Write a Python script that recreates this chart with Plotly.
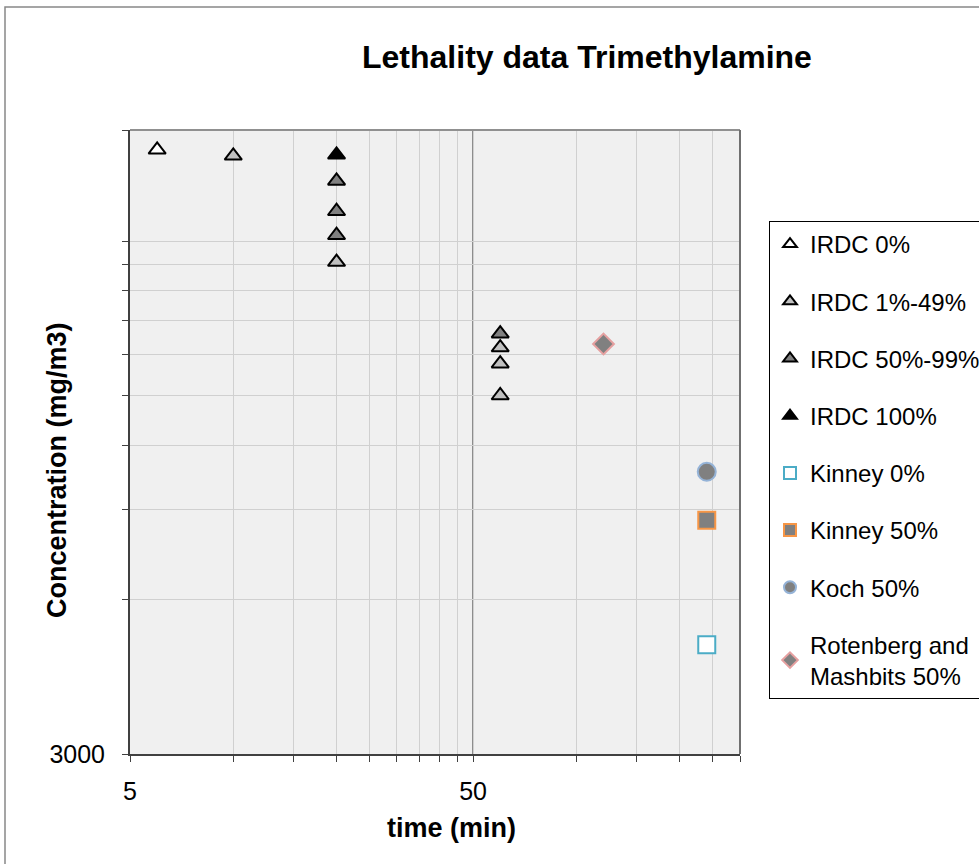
import plotly.graph_objects as go

# ---- data ----
irdc0_x = [6]
irdc0_y = [45200]
irdc1_x = [10, 20, 60, 60, 60]
irdc1_y = [44000, 27300, 18600, 17300, 15000]
irdc50_x = [20, 20, 20, 60]
irdc50_y = [39300, 34300, 30800, 19800]
irdc100_x = [20]
irdc100_y = [44200]
kinney0_x = [240]
kinney0_y = [4900]
kinney50_x = [240]
kinney50_y = [8570]
koch50_x = [240]
koch50_y = [10650]
roten_x = [120]
roten_y = [18900]

x_ticks = [5, 10, 15, 20, 25, 30, 35, 40, 45, 50, 100, 150, 200, 250, 300]
x_labels = {5: "5", 50: "50"}
y_ticks = [3000, 6000, 9000, 12000, 15000, 18000, 21000, 24000, 27000, 30000, 49400]
y_labels = {3000: "3000"}

FONT = "Arial, Liberation Sans, sans-serif"

fig = go.Figure()

def add(name, xs, ys, symbol, fill, line, size, lw, group):
    fig.add_trace(go.Scatter(
        x=xs, y=ys, mode="markers", name=name, legendgroup=group,
        marker=dict(symbol=symbol, color=fill, size=size,
                    line=dict(color=line, width=lw)),
    ))

add("IRDC 0%", irdc0_x, irdc0_y, "triangle-up", "#ffffff", "#000000", 15, 2, "a")
add("IRDC 1%-49%", irdc1_x, irdc1_y, "triangle-up", "#c0c0c0", "#000000", 15, 2, "b")
add("IRDC 50%-99%", irdc50_x, irdc50_y, "triangle-up", "#808080", "#000000", 15, 2, "c")
add("IRDC 100%", irdc100_x, irdc100_y, "triangle-up", "#000000", "#000000", 15, 2, "d")
add("Kinney 0%", kinney0_x, kinney0_y, "square", "#ffffff", "#4bacc6", 17, 2, "e")
add("Kinney 50%", kinney50_x, kinney50_y, "square", "#808080", "#f79646", 17, 2, "f")
add("Koch 50%", koch50_x, koch50_y, "circle", "#808080", "#95b3d7", 18, 2, "g")
add("Rotenberg and<br>Mashbits 50%", roten_x, roten_y, "diamond", "#808080", "#e6a0a0", 16, 2, "h")

L, R, T, B = 130, 239, 130, 110
W, H = 979, 864
pw, ph = W - L - R, H - T - B

def px_x(p):
    return (p - L) / pw

def px_y(p):
    return (H - B - p) / ph

fig.update_layout(
    width=W, height=H,
    margin=dict(l=L, r=R, t=T, b=B, autoexpand=False),
    paper_bgcolor="#ffffff",
    plot_bgcolor="#f0f0f0",
    font=dict(family=FONT, size=24, color="#000000"),
    showlegend=True,
    legend=dict(
        xref="container", yref="container",
        x=769 / W, y=1 - 221 / H, xanchor="left", yanchor="top",
        bgcolor="#ffffff", bordercolor="#000000", borderwidth=1,
        font=dict(family=FONT, size=24, color="#000000"),
        tracegroupgap=23, itemsizing="constant", maxheight=640,
    ),
    xaxis=dict(
        type="log", range=[0.69897, 2.4771],
        tickvals=x_ticks, ticktext=[x_labels.get(v, "") for v in x_ticks],
        showgrid=True, gridcolor="#d0d0d0", gridwidth=1,
        ticks="outside", ticklen=6, tickcolor="#404040", tickwidth=1,
        showline=True, linecolor="#404040", linewidth=2, mirror=False,
        zeroline=False, tickfont=dict(size=25), ticklabelstandoff=8,
        automargin=False,
    ),
    yaxis=dict(
        type="log", range=[3.47712, 4.69373],
        tickvals=y_ticks, ticktext=[y_labels.get(v, "") for v in y_ticks],
        showgrid=True, gridcolor="#d0d0d0", gridwidth=1,
        ticks="outside", ticklen=6, tickcolor="#404040", tickwidth=1,
        showline=True, linecolor="#404040", linewidth=2, mirror=False,
        zeroline=False, tickfont=dict(size=25), ticklabelstandoff=12,
        automargin=False,
    ),
    shapes=[
        # darker major gridline at 50
        dict(type="line", xref="x", yref="paper", x0=50, x1=50, y0=0, y1=1,
             line=dict(color="#606060", width=1.5), layer="below"),
        # plot area top / right border
        dict(type="line", xref="paper", yref="paper", x0=0, x1=1, y0=1, y1=1,
             line=dict(color="#909090", width=2)),
        dict(type="line", xref="paper", yref="paper", x0=1, x1=1, y0=0, y1=1,
             line=dict(color="#707070", width=2)),
        # outer chart border
        dict(type="rect", xref="paper", yref="paper",
             x0=px_x(5), x1=px_x(1000), y0=px_y(7), y1=px_y(900),
             line=dict(color="#888888", width=1.5), fillcolor="rgba(0,0,0,0)"),
    ],
    annotations=[
        dict(text="<b>Lethality data Trimethylamine</b>", xref="paper", yref="paper",
             x=px_x(587), y=px_y(57), xanchor="center", yanchor="middle",
             showarrow=False, font=dict(size=32, family=FONT)),
        dict(text="<b>Concentration (mg/m3)</b>", xref="paper", yref="paper",
             x=px_x(57), y=px_y(470), xanchor="center", yanchor="middle",
             textangle=-90, showarrow=False, font=dict(size=27, family=FONT)),
        dict(text="<b>time (min)</b>", xref="paper", yref="paper",
             x=px_x(451), y=px_y(828), xanchor="center", yanchor="middle",
             showarrow=False, font=dict(size=27, family=FONT)),
    ],
)

fig.write_html("out.html", config={"displayModeBar": False},
               post_script="document.body.style.margin='0px';")
